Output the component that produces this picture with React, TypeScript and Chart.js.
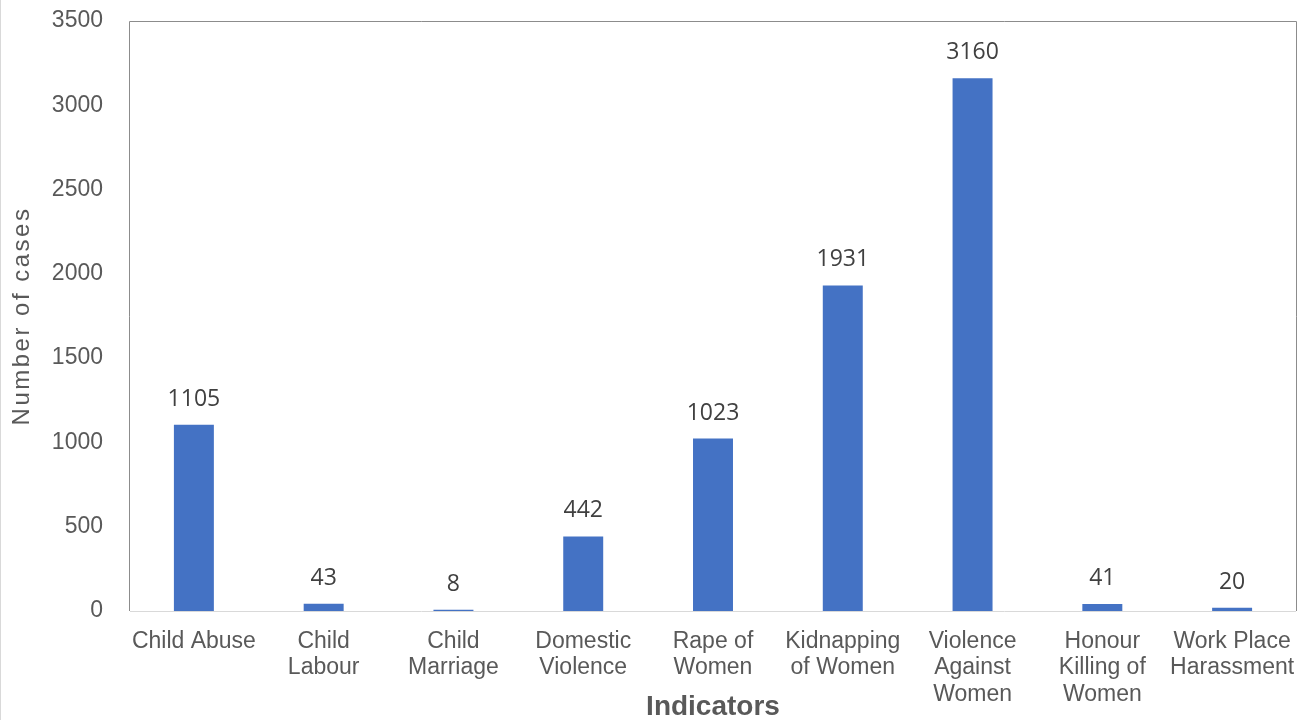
import React, { useEffect, useRef } from "react";
import { Chart, registerables } from "chart.js";

Chart.register(...registerables);

const categories: string[][] = [
  ["Child Abuse"],
  ["Child", "Labour"],
  ["Child", "Marriage"],
  ["Domestic", "Violence"],
  ["Rape of", "Women"],
  ["Kidnapping", "of Women"],
  ["Violence", "Against", "Women"],
  ["Honour", "Killing of", "Women"],
  ["Work Place", "Harassment"],
];
const cases: number[] = [1105, 43, 8, 442, 1023, 1931, 3160, 41, 20];
const yTicks: number[] = [0, 500, 1000, 1500, 2000, 2500, 3000, 3500];
const yTitle = "Number of cases";
const xTitle = "Indicators";

const labelPlugin = {
  id: "customDecor",
  afterDatasetsDraw(chart: any) {
    const { ctx, chartArea } = chart;
    const { left, right, top, bottom } = chartArea;
    ctx.save();
    // plot frame
    ctx.lineWidth = 1;
    ctx.strokeStyle = "#8c8c8c";
    ctx.beginPath();
    ctx.moveTo(left + 0.5, bottom);
    ctx.lineTo(left + 0.5, top + 0.5);
    ctx.lineTo(right - 0.5, top + 0.5);
    ctx.lineTo(right - 0.5, bottom);
    ctx.stroke();
    ctx.strokeStyle = "#d9d9d9";
    ctx.beginPath();
    ctx.moveTo(left + 1, bottom + 0.5);
    ctx.lineTo(right - 1, bottom + 0.5);
    ctx.stroke();
    // outer left edge
    ctx.beginPath();
    ctx.moveTo(0.5, 0);
    ctx.lineTo(0.5, chart.height);
    ctx.stroke();

    // data labels
    const meta = chart.getDatasetMeta(0);
    ctx.fillStyle = "#404040";
    ctx.font = '23px "Open Sans", sans-serif';
    ctx.textAlign = "center";
    ctx.textBaseline = "alphabetic";
    meta.data.forEach((bar: any, i: number) => {
      ctx.fillText(String(cases[i]), bar.x, bar.y - 19);
    });

    // axis titles
    ctx.fillStyle = "#595959";
    ctx.font = '24px "Liberation Sans", Arial, sans-serif';
    (ctx as any).letterSpacing = "2.5px";
    ctx.translate(22, (top + bottom) / 2);
    ctx.rotate(-Math.PI / 2);
    ctx.textAlign = "center";
    ctx.textBaseline = "middle";
    ctx.fillText(yTitle, 0, 0);
    ctx.setTransform(1, 0, 0, 1, 0, 0);
    (ctx as any).letterSpacing = "0px";
    ctx.font = 'bold 28px "Liberation Sans", Arial, sans-serif';
    ctx.textAlign = "center";
    ctx.textBaseline = "alphabetic";
    ctx.fillText(xTitle, (left + right) / 2, 715);
    ctx.restore();
  },
};

export default function App() {
  const ref = useRef<HTMLCanvasElement | null>(null);
  useEffect(() => {
    if (!ref.current) return;
    const chart = new Chart(ref.current, {
      type: "bar",
      data: {
        labels: categories,
        datasets: [
          {
            data: cases,
            backgroundColor: "#4472C4",
            borderWidth: 0,
            categoryPercentage: 1,
            barPercentage: 0.308,
          },
        ],
      },
      options: {
        responsive: false,
        animation: false,
        layout: { padding: { top: 21, right: 9, left: 0, bottom: 0 } },
        plugins: { legend: { display: false }, tooltip: { enabled: false } },
        scales: {
          x: {
            grid: { display: false, drawTicks: false },
            border: { display: false },
            ticks: {
              color: "#595959",
              font: { family: '"Liberation Sans", Arial, sans-serif', size: 23, lineHeight: 1.16 },
              padding: 17,
              maxRotation: 0,
              minRotation: 0,
              autoSkip: false,
            },
            afterFit(scale: any) {
              scale.height = 109;
              scale.paddingLeft = 0;
              scale.paddingRight = 0;
            },
          },
          y: {
            min: 0,
            max: 3500,
            grid: { display: false, drawTicks: false },
            border: { display: false },
            afterBuildTicks(scale: any) {
              scale.ticks = yTicks.map((v) => ({ value: v }));
            },
            ticks: {
              color: "#595959",
              font: { family: '"Liberation Sans", Arial, sans-serif', size: 23 },
              padding: 26,
              callback: (v: any) => String(v),
            },
            afterFit(scale: any) {
              scale.width = 129;
              scale.paddingTop = 0;
              scale.paddingBottom = 0;
            },
          },
        },
      },
      plugins: [labelPlugin],
    });
    return () => chart.destroy();
  }, []);
  return (
    <div style={{ position: "fixed", left: 0, top: 0, width: 1306, height: 720, background: "#fff" }}>
      <canvas ref={ref} width={1306} height={720} />
    </div>
  );
}
